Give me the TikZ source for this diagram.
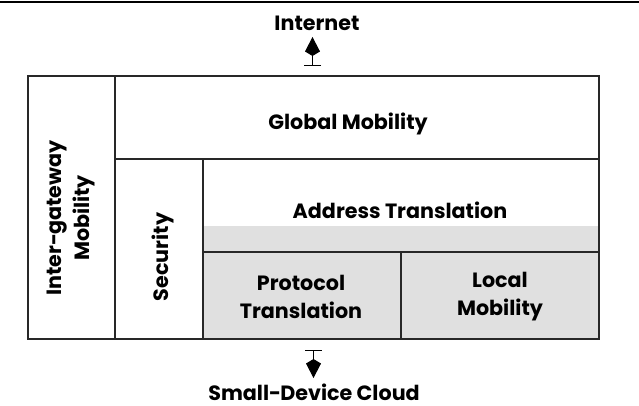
\documentclass[tikz,border=0pt]{standalone}
\usepackage{fontspec}
\setmainfont{Poppins}[BoldFont={Poppins Bold}]
\usetikzlibrary{arrows.meta}
\definecolor{cellgray}{RGB}{224,224,224}
\definecolor{linegray}{RGB}{40,40,40}
\tikzset{
  cellline/.style={draw=linegray, line width=1.1pt},
  lbl/.style={font=\bfseries\fontsize{15.5}{21}\selectfont, align=center, inner sep=0pt},
  io/.style={line width=0.75pt, {Bar[width=12.75pt]}-{Kite[length=14.25pt,width=11.25pt,inset=3.4pt]}}
}
\begin{document}
\begin{tikzpicture}[x=0.75pt,y=-0.75pt]
\useasboundingbox (0,0) rectangle (639,406);
% top rule
\draw[line width=2.2pt] (0,2) -- (639,2);
% gray area
\fill[cellgray] (203,226) rectangle (599,339);
% cells
\draw[cellline] (28,76) rectangle (599,339);
\draw[cellline] (115,76) -- (115,339);
\draw[cellline] (115,159) -- (599,159);
\draw[cellline] (203,159) -- (203,339);
\draw[cellline] (203,252) -- (599,252);
\draw[cellline] (401,252) -- (401,339);
% labels
\node[lbl, rotate=90] (inter) at (71,218) {Inter−gateway\\Mobility};
\node[lbl] (global) at (348,124) {Global Mobility};
\node[lbl, rotate=90] (sec) at (163,257) {Security};
\node[lbl] (addr) at (400,210) {Address Translation};
\node[lbl] (proto) at (301,297) {Protocol\\Translation};
\node[lbl] (local) at (500,297) {Local\\Mobility};
\node[lbl] (inet) at (317,23) {Internet};
\node[lbl] (cloud) at (314,392) {Small−Device Cloud};
% connectors
\coordinate (topstart) at (312.5,66);
\coordinate (topend) at (312.5,37);
\coordinate (botstart) at (313.5,350);
\coordinate (botend) at (313.5,378);
\draw[io] (topstart) -- (topend);
\draw[io] (botstart) -- (botend);
\end{tikzpicture}
\end{document}
